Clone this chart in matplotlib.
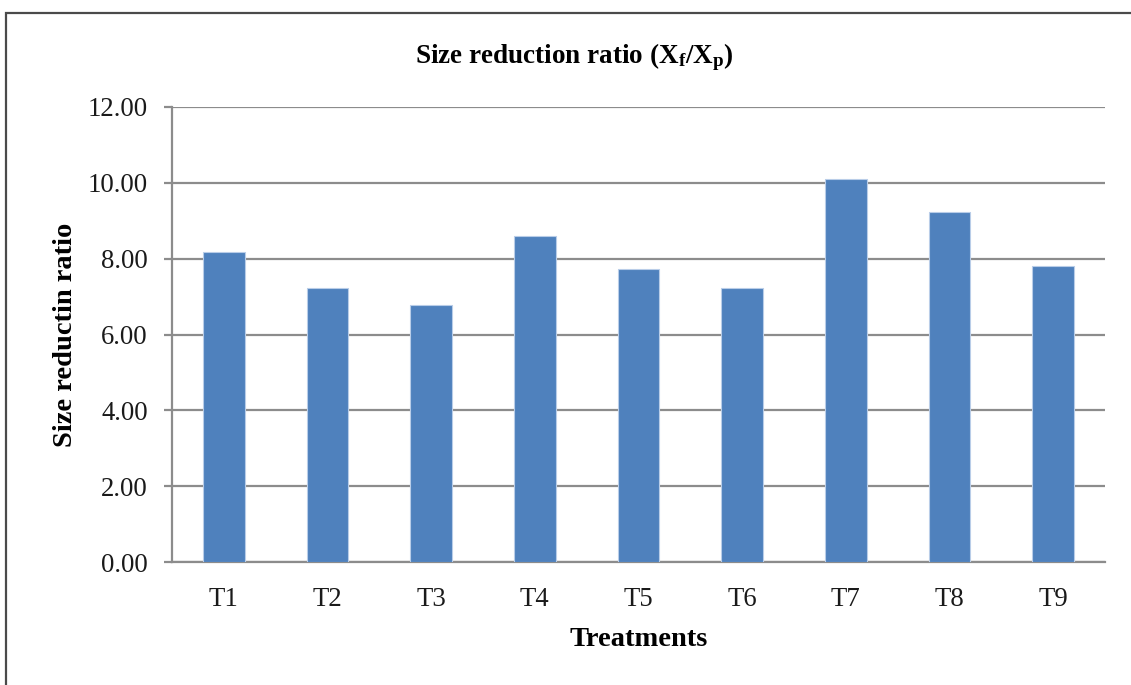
import matplotlib
matplotlib.use("Agg")
import matplotlib.pyplot as plt
from matplotlib.patches import Rectangle

treatments = ["T1", "T2", "T3", "T4", "T5", "T6", "T7", "T8", "T9"]
ratio = [8.17, 7.22, 6.79, 8.61, 7.74, 7.22, 10.10, 9.24, 7.81]
yticks = [0, 2, 4, 6, 8, 10, 12]

plt.rcParams["font.family"] = ["Liberation Serif", "DejaVu Serif"]
plt.rcParams["mathtext.fontset"] = "custom"
plt.rcParams["mathtext.rm"] = "Liberation Serif"
plt.rcParams["mathtext.bf"] = "Liberation Serif:bold"
plt.rcParams["mathtext.it"] = "Liberation Serif:italic"

W, H, DPI = 1131, 685, 100
fig = plt.figure(figsize=(W / DPI, H / DPI), dpi=DPI)
fig.patch.set_facecolor("white")

# outer chart frame (runs off the right and bottom edges)
fig.patches.append(Rectangle((5.5 / W, -0.1), 1.2, 1 - 12.5 / H + 0.1,
                             transform=fig.transFigure, fill=False,
                             edgecolor="#4a4a4a", linewidth=1.6))

ax = fig.add_axes([172 / W, 1 - 562 / H, (1105 - 172) / W, (562 - 107) / H])
grid_c = "#8c8c8c"
x = range(len(treatments))
ax.bar(x, ratio, width=0.4, color="#4F81BD", edgecolor="#b9cde8",
       linewidth=0.8, zorder=3)

ax.set_xlim(-0.5, len(treatments) - 0.5)
ax.set_ylim(0, 12)
ax.set_yticks(yticks)
ax.set_yticklabels([f"{v:.2f}" for v in yticks])
ax.set_xticks(list(x))
ax.set_xticklabels(treatments)
ax.yaxis.grid(True, color=grid_c, linewidth=1.6, zorder=0)
ax.set_axisbelow(True)

for s in ["top", "right"]:
    ax.spines[s].set_visible(False)
for s in ["left", "bottom"]:
    ax.spines[s].set_color(grid_c)
    ax.spines[s].set_linewidth(1.6)

ax.tick_params(axis="y", length=6, width=1.6, color=grid_c, labelsize=19.3,
               pad=11.5, labelcolor="#1a1a1a")
ax.tick_params(axis="x", length=0, labelsize=19.3, pad=18, labelcolor="#1a1a1a")

ax.set_ylabel("Size reductin ratio", fontsize=20.5, fontweight="bold", labelpad=7)
ax.set_xlabel("Treatments", fontsize=20.5, fontweight="bold", labelpad=11)

fig.text(574 / W, 1 - 57 / H, r"Size reduction ratio ($\mathbf{X_f/X_p}$)",
         ha="center", va="center", fontsize=19.5, fontweight="bold")

fig.savefig("out.png", dpi=DPI)
